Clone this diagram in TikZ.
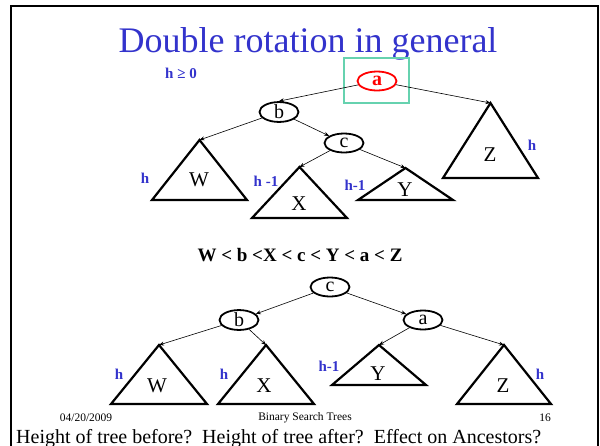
\documentclass[tikz,border=0pt]{standalone}
\usepackage{fontspec}
\setmainfont{Liberation Serif}
\usetikzlibrary{shapes.geometric,arrows.meta}
\definecolor{ttlblue}{RGB}{51,51,204}
\definecolor{boxteal}{RGB}{102,210,175}
\tikzset{
  keynode/.style={draw, ellipse, line width=1.8pt, minimum width=39pt, minimum height=19pt, inner sep=0pt, font=\fontsize{20}{22}\selectfont},
  redkey/.style={keynode, draw=red, text=red, font=\fontsize{20}{22}\selectfont\bfseries},
  subtree/.style={line width=2.2pt},
  treelbl/.style={inner sep=0pt, font=\fontsize{21}{24}\selectfont},
  hlbl/.style={inner sep=0pt, text=ttlblue, font=\fontsize{15}{18}\selectfont\bfseries},
  edge/.style={line width=0.6pt, -{Stealth[length=5pt,width=4pt]}},
  foot/.style={inner sep=0pt, font=\fontsize{11.5}{13}\selectfont}
}
\begin{document}
\begin{tikzpicture}[x=1pt,y=-1pt]
\useasboundingbox (0,0) rectangle (600,445);
% frame
\draw[line width=2pt] (11,460) -- (11,6) -- (598,6) -- (598,460);
% title
\node[anchor=base, inner sep=0pt, text=ttlblue, font=\fontsize{36}{40}\selectfont] (title) at (308,52) {Double rotation in general};
\node[hlbl] (hge) at (181,73) {h ≥ 0};
% ---------- top tree ----------
\node[draw=boxteal, line width=1.3pt, minimum width=65pt, minimum height=45pt, inner sep=0pt] (focus) at (376.5,80.5) {};
\node[redkey] (a1) at (377,81) {a};
\node[keynode] (b1) at (279,112) {b};
\node[keynode] (c1) at (344,143) {c};
\coordinate (W1) at (199.5,140);
\coordinate (X1) at (299.5,167);
\coordinate (Y1) at (405.5,168);
\coordinate (Z1) at (490.5,103);
\draw[subtree] (W1) -- (152,200) -- (247,200) -- cycle;
\draw[subtree] (X1) -- (252,218) -- (347,218) -- cycle;
\draw[subtree] (Y1) -- (358,200) -- (453,200) -- cycle;
\draw[subtree] (Z1) -- (443,178) -- (538,178) -- cycle;
\node[treelbl] (w1l) at (199,180) {W};
\node[treelbl] (x1l) at (299,204) {X};
\node[treelbl] (y1l) at (405,190) {Y};
\node[treelbl] (z1l) at (490,155) {Z};
\node[hlbl] (h1) at (145,178) {h};
\node[hlbl] (h2) at (266,181) {h -1};
\node[hlbl] (h3) at (355,185) {h-1};
\node[hlbl] (h4) at (532,145) {h};
\draw[edge] (a1) -- (b1.north);
\draw[edge] (a1) -- (Z1);
\draw[edge] (b1) -- (W1);
\draw[edge] (b1) -- (c1);
\draw[edge] (c1) -- (X1);
\draw[edge] (c1) -- (Y1);
% order
\node[inner sep=0pt, font=\fontsize{19}{22}\selectfont\bfseries] (order) at (300,255) {W < b <X < c < Y < a < Z};
% ---------- bottom tree ----------
\node[keynode] (c2) at (330,287) {c};
\node[keynode] (b2) at (239,320) {b};
\node[keynode] (a2) at (423,320) {a};
\coordinate (W2) at (159,345);
\coordinate (X2) at (266,345);
\coordinate (Y2) at (379,345);
\coordinate (Z2) at (504,345);
\draw[subtree] (W2) -- (111,404) -- (207,404) -- cycle;
\draw[subtree] (X2) -- (218,404) -- (314,404) -- cycle;
\draw[subtree] (Y2) -- (332,385) -- (426,385) -- cycle;
\draw[subtree] (Z2) -- (457,404) -- (551,404) -- cycle;
\node[treelbl] (w2l) at (157,386) {W};
\node[treelbl] (x2l) at (264,386) {X};
\node[treelbl] (y2l) at (378,374) {Y};
\node[treelbl] (z2l) at (503,386) {Z};
\node[hlbl] (h5) at (119,374) {h};
\node[hlbl] (h6) at (224,374) {h};
\node[hlbl] (h7) at (329,366) {h-1};
\node[hlbl] (h8) at (540,374) {h};
\draw[edge] (c2) -- (b2);
\draw[edge] (c2) -- (a2);
\draw[edge] (b2) -- (W2);
\draw[edge] (b2) -- (X2);
\draw[edge] (a2) -- (Y2);
\draw[edge] (a2) -- (Z2);
% footer
\node[foot] (date) at (86,418) {04/20/2009};
\node[foot] (course) at (305,418) {Binary Search Trees};
\node[foot] (page) at (545,418) {16};
\node[anchor=base west, inner sep=0pt, font=\fontsize{20}{24}\selectfont] (question) at (16,443) {Height of tree before?\ \ Height of tree after?\ \ Effect on Ancestors?};
\end{tikzpicture}
\end{document}
